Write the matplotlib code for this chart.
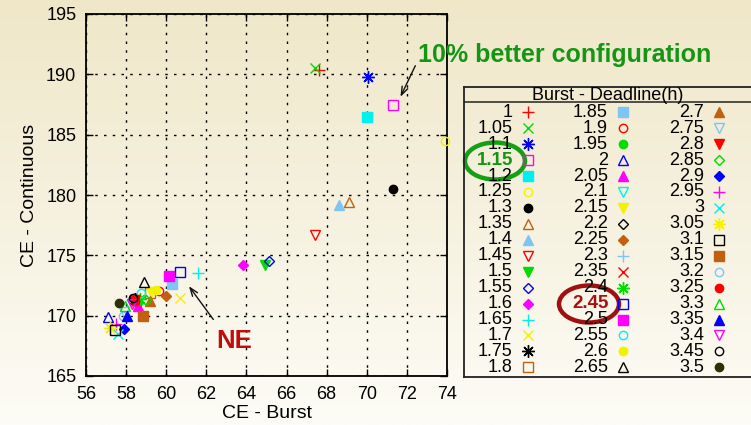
import numpy as np
import matplotlib
matplotlib.use("Agg")
import matplotlib.pyplot as plt
from matplotlib.patches import Ellipse

plt.rcParams['font.family'] = ['Liberation Sans', 'DejaVu Sans']

# ---------------- data ----------------
deadline_labels = ['1', '1.05', '1.1', '1.15', '1.2', '1.25', '1.3', '1.35', '1.4', '1.45',
                   '1.5', '1.55', '1.6', '1.65', '1.7', '1.75', '1.8', '1.85', '1.9', '1.95',
                   '2', '2.05', '2.1', '2.15', '2.2', '2.25', '2.3', '2.35', '2.4', '2.45',
                   '2.5', '2.55', '2.6', '2.65', '2.7', '2.75', '2.8', '2.85', '2.9', '2.95',
                   '3', '3.05', '3.1', '3.15', '3.2', '3.25', '3.3', '3.35', '3.4', '3.45', '3.5']

ce_burst = [67.6, 67.4, 70.05, 71.3, 70.0, 73.9, 71.3, 69.1, 68.6, 67.4,
            64.95, 65.1, 63.85, 61.6, 60.7, 58.4, 59.2, 60.3, 59.65, 58.6,
            57.1, 58.6, 58.3, 59.25, 58.45, 60.0, 58.3, 58.5, 58.7, 60.7,
            60.15, 58.75, 59.5, 58.9, 59.2, 57.9, 58.45, 59.0, 57.9, 57.5,
            57.6, 57.2, 57.45, 58.85, 57.85, 58.45, 57.95, 58.05, 58.3, 58.35, 57.65]

ce_cont = [190.4, 190.5, 189.8, 187.5, 186.5, 184.5, 180.5, 179.4, 179.2, 176.7,
           174.2, 174.5, 174.2, 173.5, 171.5, 171.3, 171.9, 172.6, 172.05, 171.1,
           169.9, 170.8, 171.0, 172.0, 171.45, 171.65, 171.3, 171.2, 171.4, 173.6,
           173.25, 171.9, 172.1, 172.75, 171.25, 170.3, 171.3, 171.3, 168.9, 169.3,
           168.5, 169.0, 168.85, 169.95, 170.0, 171.2, 170.8, 169.95, 171.0, 171.45, 171.05]

x_ticks = [56, 58, 60, 62, 64, 66, 68, 70, 72, 74]
y_ticks = [165, 170, 175, 180, 185, 190, 195]

highlight_good = '1.15'
highlight_ne = '2.45'

# ---------------- styles ----------------
palette = ['#ff0000', '#00dd00', '#0000ff', '#ff00ff', '#00f0f0', '#f4f000',
           '#000000', '#c06010', '#80c4f4']
shapes = ['plus', 'cross', 'star', 'osq', 'fsq', 'ocirc', 'fcirc', 'otri', 'ftri',
          'otrid', 'ftrid', 'odia', 'fdia']
colors = [palette[i % 9] for i in range(49)] + ['#000000', '#2e2e08']
kinds = [shapes[i % 13] for i in range(49)] + ['ocirc', 'fcirc']

marker_spec = {
    'plus': ('+', 9, False, True),
    'cross': ('x', 7, False, True),
    'star': ((8, 2, 0), 9, False, True),
    'osq': ('s', 6.5, False, False),
    'fsq': ('s', 6.5, True, False),
    'ocirc': ('o', 6, False, False),
    'fcirc': ('o', 6, True, False),
    'otri': ('^', 7.5, False, False),
    'ftri': ('^', 7.5, True, False),
    'otrid': ('v', 7.5, False, False),
    'ftrid': ('v', 7.5, True, False),
    'odia': ('D', 5.5, False, False),
    'fdia': ('D', 5.5, True, False),
}


def style_kwargs(kind, color):
    m, ms, filled, lineonly = marker_spec[kind]
    kw = dict(marker=m, markersize=ms, linestyle='none', markeredgewidth=1.0)
    if lineonly:
        kw.update(color=color)
    elif filled:
        kw.update(markerfacecolor=color, markeredgecolor=color)
    else:
        kw.update(markerfacecolor='none', markeredgecolor=color)
    return kw


W, H = 751, 425
fig = plt.figure(figsize=(W / 100, H / 100), dpi=100)

# background gradient
bg = fig.add_axes([0, 0, 1, 1])
top = np.array([239, 231, 200]) / 255.0
bot = np.array([253, 252, 246]) / 255.0
t = np.linspace(0, 1, 256)[:, None]
grad = (top[None, :] * (1 - t) + bot[None, :] * t)[:, None, :]
bg.imshow(grad, aspect='auto', extent=[0, 1, 0, 1], interpolation='bilinear')
bg.set_axis_off()

# main axes
ax = fig.add_axes([86 / W, 1 - 376 / H, (447 - 86) / W, (376 - 14) / H])
ax.set_facecolor('none')
for i in range(len(deadline_labels)):
    ax.plot([ce_burst[i]], [ce_cont[i]], clip_on=False, zorder=3,
            **style_kwargs(kinds[i], colors[i]))

ax.set_xlim(56, 74)
ax.set_ylim(165, 195)
ax.set_xticks(x_ticks)
ax.set_yticks(y_ticks)
ax.tick_params(direction='in', length=5, width=1, top=True, right=True,
               labelsize=13, pad=7)
ax.grid(True, color='black', linestyle=(0, (1.8, 4.5)), linewidth=1.0)
for s in ax.spines.values():
    s.set_linewidth(1.3)
ax.set_xlabel('CE - Burst', fontsize=14, labelpad=2)
ax.set_ylabel('CE - Continuous', fontsize=14, labelpad=6)

# annotations
ax.annotate('', xy=(71.62, 187.93), xytext=(72.48, 190.92),
            arrowprops=dict(arrowstyle='->,head_length=0.6,head_width=0.22',
                            color='#111111', lw=1.0))
ax.annotate('', xy=(61.05, 172.63), xytext=(62.43, 169.5),
            arrowprops=dict(arrowstyle='->,head_length=0.6,head_width=0.22',
                            color='#111111', lw=1.0))
fig.text(418 / W, 1 - 61.7 / H, '10% better configuration', fontsize=18,
         fontweight='bold', color='#149614', ha='left', va='baseline')
fig.text(233.7 / W, 1 - 341.3 / H, 'NE', fontsize=18.5, fontweight='bold',
         color='#c00c0c', ha='center', va='center')

# legend (drawn in pixel coordinates)
lg = fig.add_axes([464 / W, 1 - 377 / H, (770 - 464) / W, (377 - 87) / H])
lg.set_xlim(464, 770)
lg.set_ylim(377, 87)
lg.set_facecolor('none')
lg.set_xticks([])
lg.set_yticks([])
for s in lg.spines.values():
    s.set_linewidth(1.3)
    s.set_color('#222222')
lg.axhline(101.7, color='#222222', lw=1.1)
lg.text(608, 95, 'Burst - Deadline(h)', fontsize=13, ha='center', va='center')
label_x = [512.3, 607.7, 704.3]
mark_x = [527.7, 623.3, 719.3]
for i, lab in enumerate(deadline_labels):
    col, row = divmod(i, 17)
    y = 112.3 + row * 15.94
    if lab == highlight_good:
        lg.text(label_x[col] + 1, y, lab, fontsize=13.5, fontweight='bold',
                color='#149614', ha='right', va='center', zorder=5)
    elif lab == highlight_ne:
        lg.text(label_x[col] + 1, y, lab, fontsize=13.5, fontweight='bold',
                color='#a81010', ha='right', va='center', zorder=5)
    else:
        lg.text(label_x[col], y, lab, fontsize=13, ha='right', va='center')
    lg.plot([mark_x[col]], [y], clip_on=False, **style_kwargs(kinds[i], colors[i]))

lg.add_patch(Ellipse((495, 161), 60, 37, fill=False, edgecolor='#14a014',
                     lw=3.2, clip_on=False))
lg.add_patch(Ellipse((589, 304), 60, 37, fill=False, edgecolor='#a01010',
                     lw=3.2, clip_on=False))

fig.savefig('out.png', dpi=100)
